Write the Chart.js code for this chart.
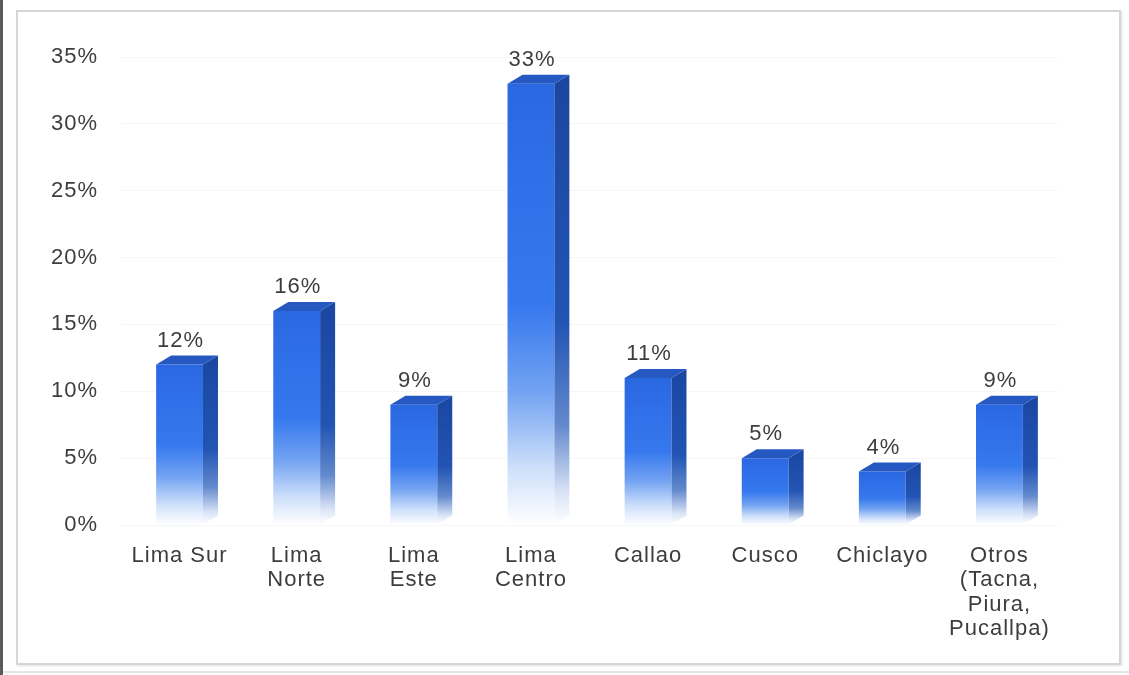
<!DOCTYPE html>
<html>
<head>
<meta charset="utf-8">
<script src="https://cdn.jsdelivr.net/npm/chart.js@4/dist/chart.umd.min.js"></script>
<style>
  html, body { margin: 0; padding: 0; background: #fff; }
  #wrap { position: relative; width: 1129px; height: 675px; overflow: hidden; }
  .edge { position: absolute; left: 0; top: 0; width: 3px; height: 675px; background: #5a5a5a; }
  .frame { position: absolute; left: 16px; top: 10px; width: 1101px; height: 651px;
           border: 2px solid #d6d6d6; box-shadow: 1px 1px 2px rgba(0,0,0,0.12); }
  .floor { position: absolute; left: 3px; top: 671px; width: 1126px; height: 2px; background: #e6e6e6; }
  canvas { position: absolute; left: 0; top: 0; }
</style>
</head>
<body>
<div id="wrap">
  <div class="edge"></div>
  <div class="frame"></div>
  <div class="floor"></div>
  <canvas id="chart" width="1129" height="675"></canvas>
</div>
<script>
// Regions and their share of the total
const categories = [
  ["Lima Sur"],
  ["Lima", "Norte"],
  ["Lima", "Este"],
  ["Lima", "Centro"],
  ["Callao"],
  ["Cusco"],
  ["Chiclayo"],
  ["Otros", "(Tacna,", "Piura,", "Pucallpa)"]
];
const shares = [12, 16, 9, 33, 11, 5, 4, 9];
const yMin = 0;
const yMax = 35;
const yStep = 5;

const FONT = { family: "'Liberation Sans', Arial, sans-serif", size: 22 };
const TEXT = '#3d3d3d';
const DEPTH_X = 15, DEPTH_Y = 9;
const BLUE = 'rgb(44,108,228)';

// vertical fade: vivid blue at the top, white at the base
function frontGradient(ctx, top, base) {
  const g = ctx.createLinearGradient(0, top, 0, base);
  g.addColorStop(0, 'rgb(42,104,226)');
  g.addColorStop(0.5, 'rgb(54,120,238)');
  g.addColorStop(0.7, 'rgb(115,163,242)');
  g.addColorStop(0.87, 'rgb(205,223,250)');
  g.addColorStop(1, 'rgb(255,255,255)');
  return g;
}
function sideGradient(ctx, top, base) {
  const g = ctx.createLinearGradient(0, top, 0, base);
  g.addColorStop(0, 'rgb(26,70,160)');
  g.addColorStop(0.55, 'rgb(34,84,180)');
  g.addColorStop(0.78, 'rgb(100,138,205)');
  g.addColorStop(0.93, 'rgb(218,228,246)');
  g.addColorStop(1, 'rgb(255,255,255)');
  return g;
}

const letterSpacing = {
  id: 'letterSpacing',
  beforeDraw(chart) { chart.ctx.letterSpacing = '1px'; }
};

// side and top faces plus the value above each column
const columnFaces = {
  id: 'columnFaces',
  afterDatasetsDraw(chart) {
    const ctx = chart.ctx;
    const meta = chart.getDatasetMeta(0);
    const data = chart.data.datasets[0].data;
    meta.data.forEach((el, i) => {
      const { x, y, base, width } = el.getProps(['x', 'y', 'base', 'width'], true);
      const left = x - width / 2, right = x + width / 2;
      ctx.save();
      // side face
      ctx.beginPath();
      ctx.moveTo(right, y);
      ctx.lineTo(right + DEPTH_X, y - DEPTH_Y);
      ctx.lineTo(right + DEPTH_X, base - DEPTH_Y);
      ctx.lineTo(right, base);
      ctx.closePath();
      ctx.fillStyle = sideGradient(ctx, y - DEPTH_Y, base);
      ctx.fill();
      // top face
      ctx.beginPath();
      ctx.moveTo(left, y);
      ctx.lineTo(left + DEPTH_X, y - DEPTH_Y);
      ctx.lineTo(right + DEPTH_X, y - DEPTH_Y);
      ctx.lineTo(right, y);
      ctx.closePath();
      ctx.fillStyle = 'rgb(38,88,194)';
      ctx.fill();
      // value label
      ctx.font = `${FONT.size}px ${FONT.family}`;
      ctx.fillStyle = TEXT;
      ctx.textAlign = 'center';
      ctx.textBaseline = 'bottom';
      ctx.letterSpacing = '1px';
      ctx.fillText(data[i] + '%', x + 1, y - DEPTH_Y - 4);
      ctx.restore();
    });
  }
};

new Chart(document.getElementById('chart'), {
  type: 'bar',
  data: {
    labels: categories,
    datasets: [{
      data: shares,
      borderWidth: 0,
      backgroundColor(context) {
        const chart = context.chart;
        const ys = chart.scales && chart.scales.y;
        if (!ys || context.type !== 'data') return BLUE;
        const top = ys.getPixelForValue(shares[context.dataIndex]);
        const base = ys.getPixelForValue(0);
        if (!isFinite(top) || !isFinite(base) || top === base) return BLUE;
        return frontGradient(chart.ctx, top, base);
      },
      barPercentage: 0.4,
      categoryPercentage: 1
    }]
  },
  options: {
    responsive: false,
    animation: false,
    devicePixelRatio: 1,
    layout: { padding: { top: 57, right: 71, left: 0, bottom: 0 } },
    plugins: { legend: { display: false }, tooltip: { enabled: false } },
    scales: {
      x: {
        grid: { display: false },
        border: { display: false },
        ticks: { color: TEXT, font: { ...FONT, lineHeight: 1.1 }, maxRotation: 0, autoSkip: false, padding: 11 },
        afterFit(scale) { scale.height = 150; }
      },
      y: {
        min: yMin,
        max: yMax,
        grid: { color: 'rgba(0,0,0,0.035)', drawTicks: false },
        border: { display: false },
        ticks: { stepSize: yStep, color: TEXT, font: FONT, padding: 23, callback: v => v + '%' },
        afterFit(scale) { scale.width = 121; }
      }
    }
  },
  plugins: [letterSpacing, columnFaces]
});
</script>
</body>
</html>
